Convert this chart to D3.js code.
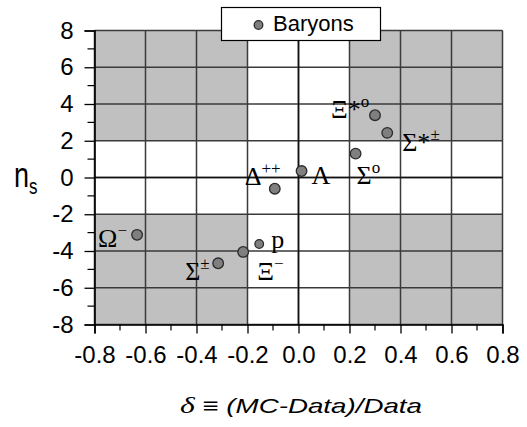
<!DOCTYPE html>
<html><head><meta charset="utf-8">
<script src="https://cdn.jsdelivr.net/npm/d3@7"></script>
<style>
html,body{margin:0;padding:0;background:#fff;}
svg{display:block;}
</style></head>
<body>
<svg id="chart" width="527" height="427"></svg>
<script>
// ---- data ----
const particleBase = ["Ξ*", "Σ*", "Σ", "Λ", "Δ", "Ω", "p", "Ξ", "Σ"];
const particleSup  = ["o", "±", "o", "", "++", "−", "", "−", "±"];
const delta = [0.300, 0.348, 0.224, 0.012, -0.093, -0.633, -0.154, -0.217, -0.315];
const ns    = [3.39, 2.43, 1.30, 0.35, -0.61, -3.12, -3.62, -4.05, -4.67];
const xTicks = [-0.8, -0.6, -0.4, -0.2, 0.0, 0.2, 0.4, 0.6, 0.8];
const yTicks = [8, 6, 4, 2, 0, -2, -4, -6, -8];
const legendLabel = "Baryons";
const xTitle = "(MC-Data)/Data";
const yTitle = "n";
const yTitleSub = "s";

// ---- layout (not data) ----
const labelDx = [-44, 15, 1, 10, -30, -39, 12, 14, -33];
const labelDy = [3, 18.5, 30, 12.7, -4, 12, 3.5, 28.5, 17];
const markerR = [5.3, 5.3, 5.3, 5.3, 5.3, 5.3, 4.3, 5.3, 5.3];

const svg = d3.select("#chart");
const x = d3.scaleLinear().domain([-0.8, 0.8]).range([94.5, 502.5]);
const y = d3.scaleLinear().domain([-8, 8]).range([324.5, 30.5]);
const hy = s => s.replace("\u2212", "-");

// shaded regions
const shade = [
  [-0.8, -0.2, 2, 8], [0.2, 0.8, 2, 8],
  [-0.8, -0.2, -8, -2], [0.2, 0.8, -8, -2]
];
svg.append("g").selectAll("rect").data(shade).join("rect")
  .attr("x", d => x(d[0])).attr("y", d => y(d[3]))
  .attr("width", d => x(d[1]) - x(d[0])).attr("height", d => y(d[2]) - y(d[3]))
  .attr("fill", "#c0c0c0");

// grid
const grid = svg.append("g").attr("stroke", "#3a3a3a").attr("stroke-width", 1.5);
grid.selectAll("line.v").data(xTicks).join("line").attr("class","v")
  .attr("x1", d => x(d)).attr("x2", d => x(d)).attr("y1", y(8)).attr("y2", y(-8));
grid.selectAll("line.h").data(yTicks).join("line").attr("class","h")
  .attr("x1", x(-0.8)).attr("x2", x(0.8)).attr("y1", d => y(d)).attr("y2", d => y(d));
svg.append("line").attr("x1", x(0)).attr("x2", x(0)).attr("y1", y(8)).attr("y2", y(-8)).attr("stroke","#111").attr("stroke-width",1.6);
svg.append("line").attr("x1", x(-0.8)).attr("x2", x(0.8)).attr("y1", y(0)).attr("y2", y(0)).attr("stroke","#111").attr("stroke-width",1.6);

// axes
const xAxis = d3.axisBottom(x).tickValues(xTicks).tickFormat(d => hy(d3.format(".1f")(d))).tickSizeOuter(0).tickSize(9).tickPadding(12);
const gx = svg.append("g").attr("transform", `translate(0,${y(-8)})`).call(xAxis);
gx.select(".domain").attr("stroke", "#000").attr("stroke-width", 1.6);
gx.selectAll(".tick line").attr("stroke", "#000").attr("stroke-width", 1.3);
gx.selectAll("text").attr("font-family", "Liberation Sans, Arial, sans-serif").attr("font-size", 24).attr("fill", "#000");
const xMinor = d3.range(-0.7, 0.8, 0.2);
gx.selectAll("line.minor").data(xMinor).join("line").attr("class","minor")
  .attr("x1", d => x(d)).attr("x2", d => x(d)).attr("y1", 0).attr("y2", 6)
  .attr("stroke", "#000").attr("stroke-width", 1.2);

const yAxis = d3.axisLeft(y).tickValues(yTicks).tickFormat(d => hy(d3.format("d")(d))).tickSizeOuter(0).tickSize(10).tickPadding(11);
const gy = svg.append("g").attr("transform", `translate(${x(-0.8)},0)`).call(yAxis);
gy.select(".domain").attr("stroke", "#000").attr("stroke-width", 1.6);
gy.selectAll(".tick line").attr("stroke", "#000").attr("stroke-width", 1.3);
gy.selectAll("text").attr("font-family", "Liberation Sans, Arial, sans-serif").attr("font-size", 24).attr("fill", "#000");
const yMinor = d3.range(-7, 8, 2);
gy.selectAll("line.minor").data(yMinor).join("line").attr("class","minor")
  .attr("x1", -7).attr("x2", 0).attr("y1", d => y(d)).attr("y2", d => y(d))
  .attr("stroke", "#000").attr("stroke-width", 1.2);

// points
const idx = d3.range(delta.length);
svg.append("g").selectAll("circle").data(idx).join("circle")
  .attr("cx", i => x(delta[i])).attr("cy", i => y(ns[i])).attr("r", i => markerR[i])
  .attr("fill", "#7f7f7f").attr("stroke", "#2a2a2a").attr("stroke-width", 1.3);

// labels
const lab = svg.append("g").attr("font-family", "Liberation Serif, Times New Roman, serif").attr("fill", "#000");
idx.forEach(i => {
  const t = lab.append("text").attr("x", x(delta[i]) + labelDx[i]).attr("y", y(ns[i]) + labelDy[i]).attr("font-size", 26);
  t.append("tspan").text(particleBase[i]);
  if (particleSup[i]) t.append("tspan").attr("font-size", 17).attr("dy", -11).text(particleSup[i]);
});

// legend
const lg = svg.append("g");
lg.append("rect").attr("x", 221.5).attr("y", 7.5).attr("width", 159).attr("height", 33)
  .attr("fill", "#fff").attr("stroke", "#000").attr("stroke-width", 1.2);
lg.append("circle").attr("cx", 258.5).attr("cy", 25).attr("r", 4.3)
  .attr("fill", "#7f7f7f").attr("stroke", "#2a2a2a").attr("stroke-width", 1.3);
lg.append("text").attr("x", 273).attr("y", 31).attr("font-family", "Liberation Sans, Arial, sans-serif")
  .attr("font-size", 22).text(legendLabel);

// y title
const yt = svg.append("g").attr("transform", "translate(14,187) scale(1,1.3)");
yt.append("text").attr("font-family", "Liberation Sans, Arial, sans-serif").attr("font-size", 27).text(yTitle)
  .append("tspan").attr("font-size", 17).attr("dy", 5).text(yTitleSub);

// x title
const xt = svg.append("text").attr("x", 180).attr("y", 413)
  .attr("font-family", "Liberation Sans, Arial, sans-serif").attr("font-style", "italic").attr("font-size", 21)
  .attr("textLength", 242).attr("lengthAdjust", "spacingAndGlyphs");
xt.append("tspan").attr("font-family", "Liberation Serif, Times New Roman, serif").attr("font-size", 24).text("δ");
xt.append("tspan").text(" ≡ " + xTitle);
</script>
</body></html>
